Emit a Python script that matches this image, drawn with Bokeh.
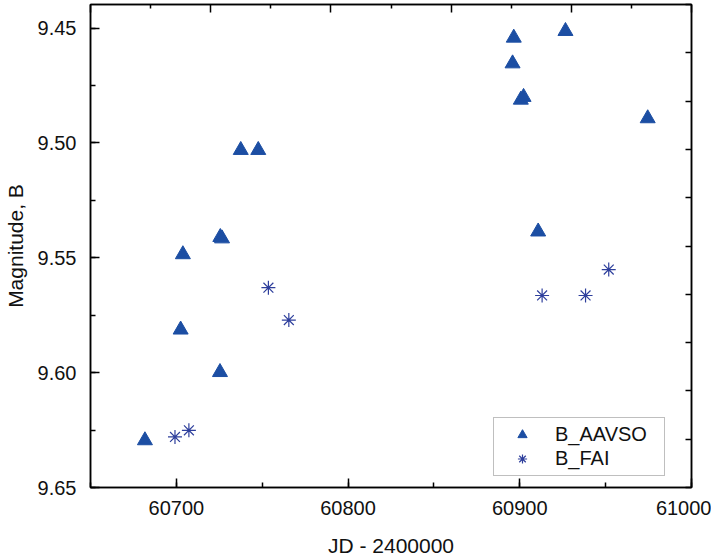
from bokeh.plotting import figure
from bokeh.models import (Range1d, LinearAxis, SingleIntervalTicker, FixedTicker,
                          PrintfTickFormatter, Legend, LegendItem, ColumnDataSource)
from bokeh.embed import file_html
from bokeh.resources import INLINE

# ---- data ----
aavso_jd = [60681.7, 60702.5, 60703.8, 60725.4, 60725.6, 60726.6, 60737.5, 60747.7,
            60895.8, 60896.5, 60900.6, 60902.2, 60910.7, 60926.6, 60974.5]
aavso_mag = [9.6295, 9.5813, 9.5485, 9.5998, 9.5410, 9.5416, 9.5031, 9.5031,
             9.4654, 9.4542, 9.4812, 9.4800, 9.5386, 9.4513, 9.4893]
fai_jd = [60699.2, 60707.3, 60753.6, 60765.5, 60913.0, 60938.3, 60951.8]
fai_mag = [9.6280, 9.6251, 9.5630, 9.5771, 9.5664, 9.5664, 9.5551]

series_names = ["B_AAVSO", "B_FAI"]
x_title = "JD - 2400000"
y_title = "Magnitude, B"

FONT = "Liberation Sans"

p = figure(frame_width=601, frame_height=483,
           x_range=Range1d(60650, 61000), y_range=Range1d(9.65, 9.4397),
           output_backend="svg", toolbar_location=None,
           min_border_left=87, min_border_right=20, min_border_top=4, min_border_bottom=62,
           x_axis_location=None, y_axis_location=None)
p.background_fill_color = "white"
p.border_fill_color = "white"
p.outline_line_color = "black"
p.outline_line_width = 1.5
p.xgrid.visible = False
p.ygrid.visible = False

# bottom axis
xa = LinearAxis(ticker=SingleIntervalTicker(interval=100, num_minor_ticks=2),
                axis_label=x_title)
# left axis
ya = LinearAxis(ticker=SingleIntervalTicker(interval=0.05, num_minor_ticks=2),
                formatter=PrintfTickFormatter(format="%.2f"), axis_label=y_title)
for ax in (xa, ya):
    ax.axis_line_color = "black"
    ax.axis_line_width = 1.5
    ax.major_tick_in = 9
    ax.major_tick_out = 0
    ax.minor_tick_in = 5
    ax.minor_tick_out = 0
    ax.major_tick_line_width = 1.5
    ax.minor_tick_line_width = 1.5
    ax.major_tick_line_color = "black"
    ax.minor_tick_line_color = "black"
    ax.major_label_text_font = FONT
    ax.major_label_text_font_size = "20px"
    ax.major_label_text_color = "#111111"
    ax.axis_label_text_font = FONT
    ax.axis_label_text_font_size = "21px"
    ax.axis_label_text_font_style = "normal"
    ax.axis_label_text_color = "#111111"
xa.major_label_standoff = 13
xa.axis_label_standoff = 16
ya.major_label_standoff = 14
ya.axis_label_standoff = 8
p.add_layout(xa, "below")
p.add_layout(ya, "left")

# mirrored frame ticks (top and right), no labels
p.extra_x_ranges = {"top": Range1d(0, 10)}
p.extra_y_ranges = {"right": Range1d(0, 10)}
ta = LinearAxis(x_range_name="top",
                ticker=FixedTicker(ticks=[0, 2, 4, 6, 8, 10], minor_ticks=[1, 3, 5, 7, 9]))
ra = LinearAxis(y_range_name="right",
                ticker=FixedTicker(ticks=list(range(0, 11)), minor_ticks=[]))
for ax in (ta, ra):
    ax.axis_line_color = "black"
    ax.axis_line_width = 1.5
    ax.major_tick_out = 0
    ax.minor_tick_out = 0
    ax.major_tick_line_width = 1.5
    ax.minor_tick_line_width = 1.5
    ax.major_label_text_font_size = "0px"
    ax.major_label_standoff = 0
    ax.major_label_text_alpha = 0
ta.major_tick_in = 8
ta.minor_tick_in = 4
ra.major_tick_in = 6
ra.minor_tick_in = 0
p.add_layout(ta, "above")
p.add_layout(ra, "right")

src_a = ColumnDataSource(dict(x=aavso_jd, y=aavso_mag))
src_f = ColumnDataSource(dict(x=fai_jd, y=fai_mag))
r_a = p.scatter("x", "y", source=src_a, marker="triangle", size=15,
                fill_color="#1c4ea3", line_color="#1c4ea3", line_width=1)
r_f = p.scatter("x", "y", source=src_f, marker="asterisk", size=14,
                line_color="#2e3f9c", line_width=1.2)

legend = Legend(items=[LegendItem(label=series_names[0], renderers=[r_a]),
                       LegendItem(label=series_names[1], renderers=[r_f])],
                location=(403, 11))
legend.border_line_color = "#7f7f7f"
legend.border_line_width = 1
legend.background_fill_color = "white"
legend.background_fill_alpha = 1
legend.padding = 5
legend.spacing = 1
legend.margin = 0
legend.glyph_width = 46
legend.glyph_height = 23
legend.label_height = 23
legend.label_width = 104
legend.label_standoff = 10
legend.label_text_font = FONT
legend.label_text_font_size = "20px"
legend.label_text_color = "#111111"
p.add_layout(legend)

open("out.html", "w").write(file_html(p, INLINE))
